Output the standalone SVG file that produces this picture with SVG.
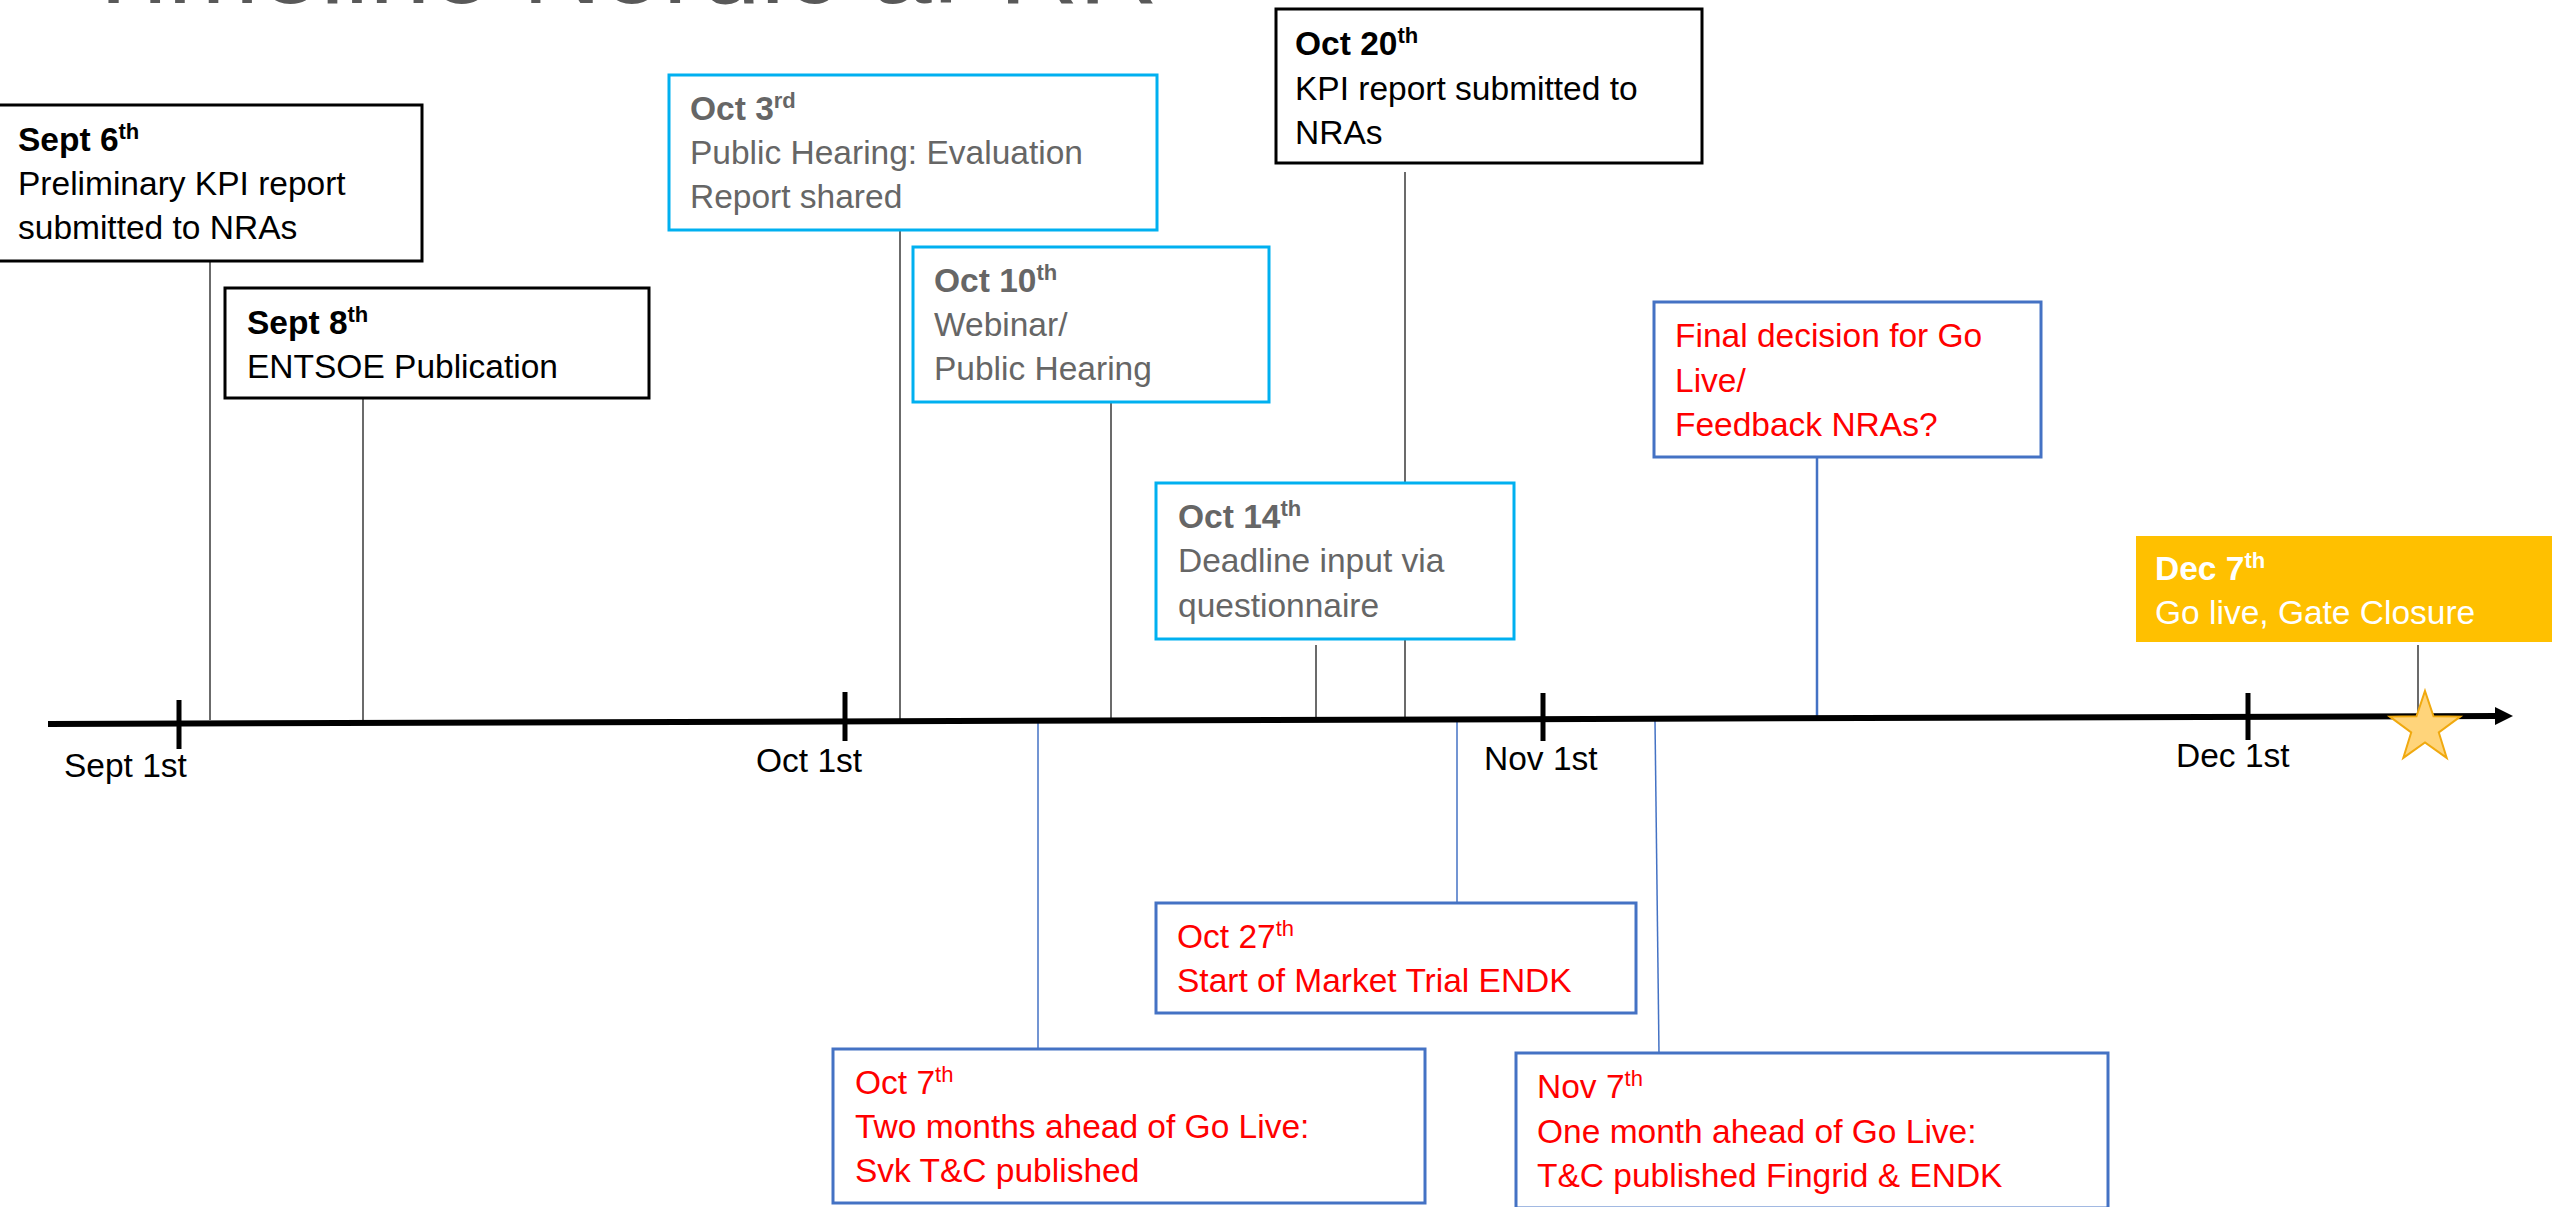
<svg xmlns="http://www.w3.org/2000/svg" width="2552" height="1207" viewBox="0 0 2552 1207">
  <defs>
    <style>
      text{font-family:"Liberation Sans",Arial,sans-serif;font-size:33.5px;fill:#000}
      .title{font-size:110px;fill:#595959}
      .d{font-weight:bold}
      .box{fill:#fff;stroke-width:3}
      .k{stroke:#000}
      .c{stroke:#00B0F0}
      .u{stroke:#4472C4}
      .g text{fill:#666}
      .r text{fill:#f00}
      .w text{fill:#fff}
      .lk{stroke:#3a3a3a;stroke-width:1.5;fill:none}
      .lb{stroke:#4472C4;stroke-width:1.5;fill:none}
      .lbw{stroke:#4472C4;stroke-width:2.5;fill:none}
      .tick{stroke:#000;stroke-width:5}
    </style>
    <marker id="arrow" viewBox="0 0 18 18" refX="2" refY="9" markerWidth="18" markerHeight="18" markerUnits="userSpaceOnUse" orient="auto">
      <path d="M0,0 L18,9 L0,18 Z" fill="#000"/>
    </marker>
  </defs>

  <!-- page title, mostly above the top edge -->
  <text class="title" x="80" y="3">Timeline Nordic aFRR</text>

  <!-- connectors -->
  <g id="connectors">
    <line class="lk" x1="210" y1="261" x2="210" y2="720"/>
    <line class="lk" x1="363" y1="398" x2="363" y2="720"/>
    <line class="lk" x1="900" y1="230" x2="900" y2="719"/>
    <line class="lk" x1="1111" y1="402" x2="1111" y2="718"/>
    <line class="lk" x1="1316" y1="645" x2="1316" y2="718"/>
    <line class="lk" x1="1405" y1="172" x2="1405" y2="718"/>
    <line class="lbw" x1="1817" y1="457" x2="1817" y2="717"/>
    <line class="lk" x1="2418" y1="645" x2="2418" y2="716"/>
    <line class="lb" x1="1038" y1="722" x2="1038" y2="1049"/>
    <line class="lb" x1="1457" y1="721" x2="1457" y2="903"/>
    <line class="lb" x1="1655" y1="721" x2="1659" y2="1053"/>
  </g>

  <!-- time axis -->
  <g id="axis">
    <line x1="48" y1="724" x2="2497" y2="716" stroke="#000" stroke-width="6" marker-end="url(#arrow)"/>
    <line class="tick" x1="179" y1="700" x2="179" y2="749"/>
    <line class="tick" x1="845" y1="692" x2="845" y2="741"/>
    <line class="tick" x1="1543" y1="693" x2="1543" y2="741"/>
    <line class="tick" x1="2248" y1="693" x2="2248" y2="740"/>
    <text x="64" y="777">Sept 1st</text>
    <text x="756" y="772">Oct 1st</text>
    <text x="1484" y="770">Nov 1st</text>
    <text x="2176" y="767">Dec 1st</text>
  </g>

  <g id="sept6">
    <rect class="box k" x="-4" y="105" width="426" height="156"/>
    <text class="d" x="18" y="151">Sept 6<tspan dy="-12" font-size="22">th</tspan></text>
    <text x="18" y="195">Preliminary KPI report</text>
    <text x="18" y="239">submitted to NRAs</text>
  </g>

  <g id="sept8">
    <rect class="box k" x="225" y="288" width="424" height="110"/>
    <text class="d" x="247" y="334">Sept 8<tspan dy="-12" font-size="22">th</tspan></text>
    <text x="247" y="378">ENTSOE Publication</text>
  </g>

  <g id="oct3" class="g">
    <rect class="box c" x="669" y="75" width="488" height="155"/>
    <text class="d" x="690" y="120">Oct 3<tspan dy="-12" font-size="22">rd</tspan></text>
    <text x="690" y="164">Public Hearing: Evaluation</text>
    <text x="690" y="208">Report shared</text>
  </g>

  <g id="oct10" class="g">
    <rect class="box c" x="913" y="247" width="356" height="155"/>
    <text class="d" x="934" y="292">Oct 10<tspan dy="-12" font-size="22">th</tspan></text>
    <text x="934" y="336">Webinar/</text>
    <text x="934" y="380">Public Hearing</text>
  </g>

  <g id="oct20">
    <rect class="box k" x="1276" y="9" width="426" height="154"/>
    <text class="d" x="1295" y="55">Oct 20<tspan dy="-12" font-size="22">th</tspan></text>
    <text x="1295" y="100">KPI report submitted to</text>
    <text x="1295" y="144">NRAs</text>
  </g>

  <g id="oct14" class="g">
    <rect class="box c" x="1156" y="483" width="358" height="156"/>
    <text class="d" x="1178" y="528">Oct 14<tspan dy="-12" font-size="22">th</tspan></text>
    <text x="1178" y="572">Deadline input via</text>
    <text x="1178" y="617">questionnaire</text>
  </g>

  <g id="final-decision" class="r">
    <rect class="box u" x="1654" y="302" width="387" height="155"/>
    <text x="1675" y="347">Final decision for Go</text>
    <text x="1675" y="392">Live/</text>
    <text x="1675" y="436">Feedback NRAs?</text>
  </g>

  <g id="dec7" class="w">
    <rect x="2136" y="536" width="420" height="106" fill="#FFC000"/>
    <text class="d" x="2155" y="580">Dec 7<tspan dy="-12" font-size="22">th</tspan></text>
    <text x="2155" y="624">Go live, Gate Closure</text>
  </g>

  <g id="go-live-star">
    <polygon points="2425,691 2433.5,716.3 2460.2,716.6 2438.8,732.5 2446.7,757.9 2425,742.5 2403.3,757.9 2411.2,732.5 2389.8,716.6 2416.5,716.3" fill="#FFD47A" stroke="#F0A90F" stroke-width="2" stroke-linejoin="miter"/>
  </g>

  <g id="oct27" class="r">
    <rect class="box u" x="1156" y="903" width="480" height="110"/>
    <text x="1177" y="948">Oct 27<tspan dy="-12" font-size="22">th</tspan></text>
    <text x="1177" y="992">Start of Market Trial ENDK</text>
  </g>

  <g id="oct7" class="r">
    <rect class="box u" x="833" y="1049" width="592" height="154"/>
    <text x="855" y="1094">Oct 7<tspan dy="-12" font-size="22">th</tspan></text>
    <text x="855" y="1138">Two months ahead of Go Live:</text>
    <text x="855" y="1182">Svk T&amp;C published</text>
  </g>

  <g id="nov7" class="r">
    <rect class="box u" x="1516" y="1053" width="592" height="155"/>
    <text x="1537" y="1098">Nov 7<tspan dy="-12" font-size="22">th</tspan></text>
    <text x="1537" y="1143">One month ahead of Go Live:</text>
    <text x="1537" y="1187">T&amp;C published Fingrid &amp; ENDK</text>
  </g>
</svg>
